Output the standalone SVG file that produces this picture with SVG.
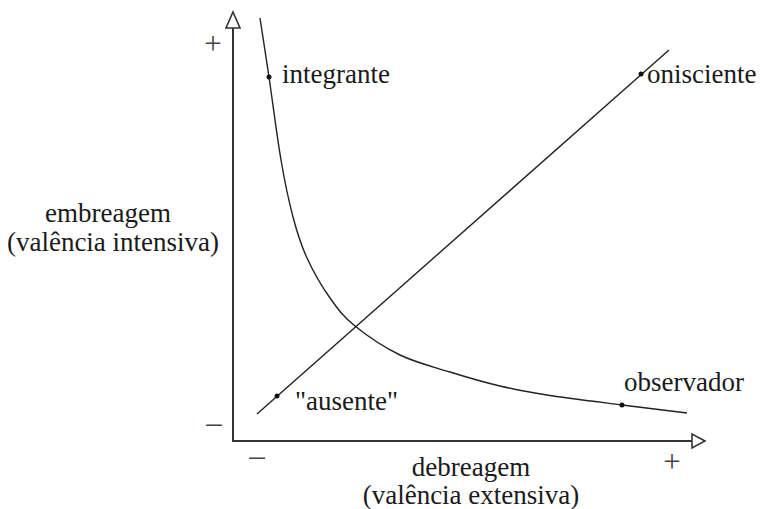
<svg xmlns="http://www.w3.org/2000/svg" width="763" height="509" viewBox="0 0 763 509">
<style>
.axis{stroke:#333;stroke-width:2;fill:none}
.arrow{stroke:#333;stroke-width:1.6;fill:#fff;stroke-linejoin:miter}
.curve{stroke:#222;stroke-width:1.4;fill:none}
.dot{fill:#111}
text{font-family:"Liberation Serif","Times New Roman",serif;font-size:27px;fill:#1a1a1a}
.sign{font-size:31px;fill:#444}
</style>
<rect width="763" height="509" fill="#fff"/>
<g id="axes">
<line class="axis" x1="233" y1="441" x2="233" y2="27"/>
<line class="axis" x1="232" y1="441" x2="693" y2="441"/>
<polygon class="arrow" points="233,12 240,28 226,28"/>
<polygon class="arrow" points="705,441 692,434 692,448"/>
</g>
<g id="connectors">
<path id="hyperbola" class="curve" d="M260,18 C261.5,27.8 265.5,53.3 269,77 C272.5,100.7 277,136.7 281,160 C285,183.3 288.7,200.7 293,217 C297.3,233.3 300.8,244.5 307,258 C313.2,271.5 322,286.7 330,298 C338,309.3 343.3,316.5 355,326 C366.7,335.5 384.2,347.3 400,355 C415.8,362.7 433.3,366.8 450,372 C466.7,377.2 483.8,382.2 500,386 C516.2,389.8 526.7,391.8 547,395 C567.3,398.2 598.7,402 622,405 C645.3,408 676.2,411.7 687,413"/>
<line id="diagonal" class="curve" x1="257" y1="414" x2="669" y2="50"/>
</g>
<g id="node-integrante"><circle class="dot" cx="269" cy="77" r="2.5"/><text x="282" y="83">integrante</text></g>
<g id="node-onisciente"><circle class="dot" cx="641" cy="74" r="2.5"/><text x="647" y="83">onisciente</text></g>
<g id="node-observador"><circle class="dot" cx="622" cy="405" r="2.5"/><text x="624" y="391">observador</text></g>
<g id="node-ausente"><circle class="dot" cx="277" cy="396" r="2.5"/><text x="295" y="410">"ausente"</text></g>
<g id="label-y"><text x="108" y="222" text-anchor="middle">embreagem</text><text x="113" y="251" text-anchor="middle">(valência intensiva)</text></g>
<g id="label-x"><text x="471" y="476" text-anchor="middle">debreagem</text><text x="471" y="504" text-anchor="middle">(valência extensiva)</text></g>
<g id="signs">
<text class="sign" x="213" y="54" text-anchor="middle">+</text>
<text class="sign" x="214" y="433" text-anchor="middle">–</text>
<text class="sign" x="257" y="466" text-anchor="middle">–</text>
<text class="sign" x="672" y="472" text-anchor="middle">+</text>
</g>
</svg>
